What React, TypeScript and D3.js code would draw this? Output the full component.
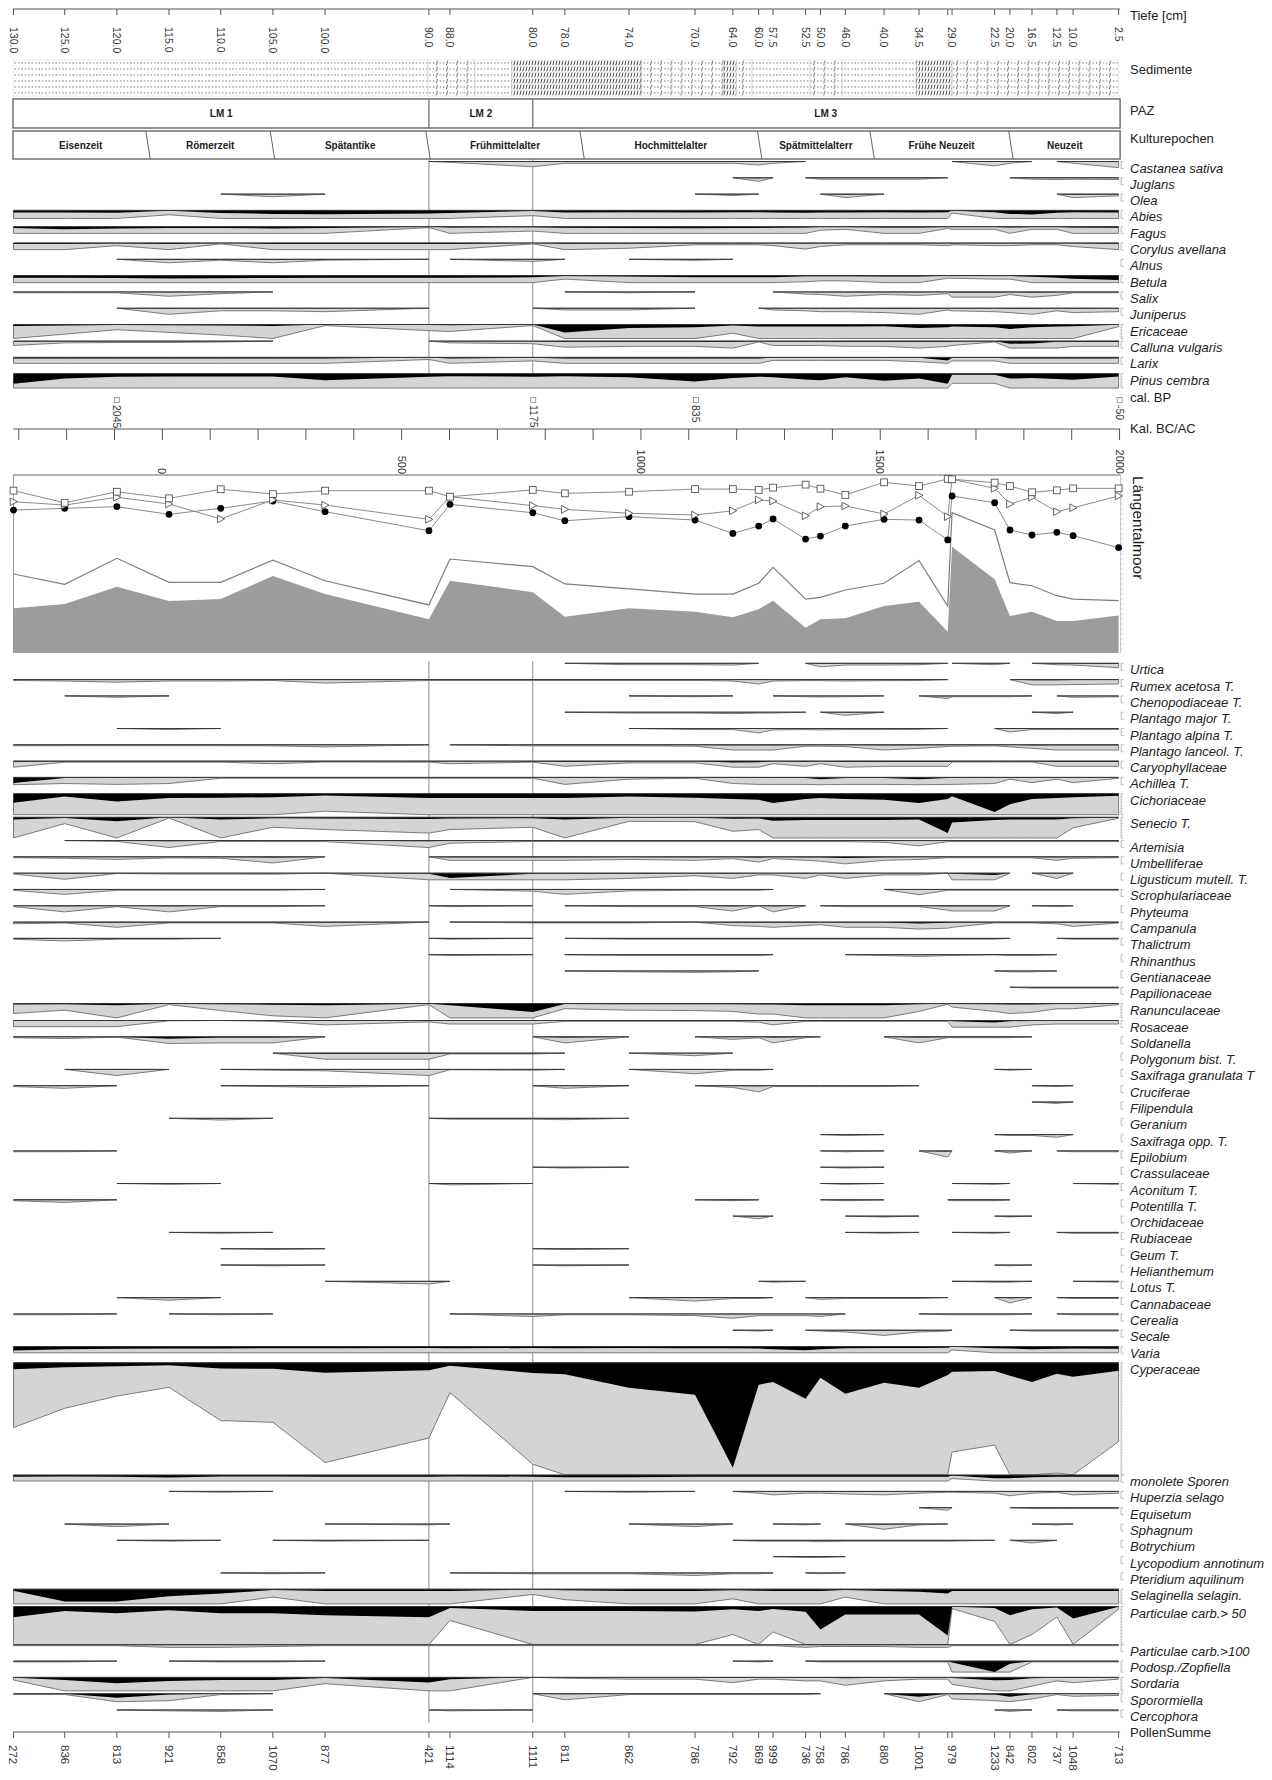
import React from "react";
import * as d3 from "d3";

// ---------- samples ----------
const SAMPLE_AGES = [-311, -204, -95, 14, 122, 231, 340, 557, 601, 774, 841, 975, 1113, 1192, 1246, 1276, 1344, 1375, 1427, 1508, 1581, 1641, 1650, 1739, 1771, 1817, 1869, 1903, 1998];
const DEPTH_LABELS = ["130.0", "125.0", "120.0", "115.0", "110.0", "105.0", "100.0", "90.0", "88.0", "80.0", "78.0", "74.0", "70.0", "64.0", "60.0", "57.5", "52.5", "50.0", "46.0", "40.0", "34.5", "", "29.0", "22.5", "20.0", "16.5", "12.5", "10.0", "2.5"];
const POLLEN_SUMS = [272, 836, 813, 921, 858, 1070, 877, 421, 1114, 1111, 811, 862, 786, 792, 869, 999, 736, 758, 786, 880, 1001, null, 979, 1233, 842, 802, 737, 1048, 713];

const CAL_BP = [2045, 1175, 835, -50];
const KAL_LABELS = [0, 500, 1000, 1500, 2000];

const ZONE_NAMES = ["LM 1", "LM 2", "LM 3"];
const ZONE_BOUNDS = [557, 774];
const EPOCH_NAMES = ["Eisenzeit", "Römerzeit", "Spätantike", "Frühmittelalter", "Hochmittelalter", "Spätmittelalterr", "Frühe Neuzeit", "Neuzeit"];
const EPOCH_BOUNDS = [-30, 230, 555, 877, 1248, 1483, 1773];

const SEDIMENT = [
  [-311, 555, "dots"], [555, 653, "mixed"], [653, 730, "dots"], [730, 1000, "peat"],
  [1000, 1173, "mixed"], [1173, 1199, "peat"], [1199, 1232, "mixed"], [1232, 1353, "dots"],
  [1353, 1420, "mixed"], [1420, 1575, "dots"], [1575, 1650, "peat"], [1650, 1998, "mixed"],
];

// ---------- Längentalmoor curves (%) ----------
const LT_SQUARES = [91.2, 84.4, 90.6, 86.9, 92, 89.3, 91.2, 91.2, 87.8, 91.6, 89.7, 90.6, 92.1, 92.1, 91.6, 92.9, 94.6, 92.3, 88.8, 95.9, 93.8, 97.8, 97.6, 95.7, 93.8, 90.3, 91.4, 92.5, 92.5];
const LT_TRIANGLES = [85, 83.1, 87.5, 83.7, 75.3, 86, 83.1, 75.1, 87.8, 82.8, 80.7, 78.5, 77.5, 79.9, 86, 85.4, 77.1, 82.2, 82.6, 78.1, 88.6, 76.6, 97.6, 92.5, 83.7, 87.5, 79.4, 81.6, 88.2];
const LT_CIRCLES = [80.3, 81.3, 82.2, 77.9, 81.3, 85.4, 79.4, 68.7, 83.5, 78.8, 74.3, 76.6, 74.7, 67.2, 71.3, 75.3, 64, 65.7, 71.3, 75.1, 74.7, 63.5, 88.2, 84.4, 69.1, 66.3, 67.8, 65.9, 59.2];
const LT_LINE = [44.4, 38.6, 53.2, 39.7, 39.7, 52.2, 40.6, 27, 52.8, 48.5, 38.8, 36, 33.1, 33.1, 39.2, 48.1, 30.3, 31.3, 35.4, 39.2, 51.9, 26.4, 78.8, 69.1, 39.5, 37.8, 32.2, 30.3, 29.4];
const LT_AREA = [25.1, 27.5, 37.2, 29.2, 30.3, 43.3, 33.1, 18.9, 40.6, 34.1, 20.4, 25.1, 23.2, 20.1, 24.6, 29.4, 14.2, 18.9, 19.5, 26.4, 28.8, 12, 59.7, 41.4, 20.8, 23.2, 18, 18, 21];

// ---------- taxa (% values, max = panel maximum %) ----------
const TREE_TAXA = [
  { name: "Castanea sativa", max: 4, v: [0, 0, 0, 0, 0, 0, 0, 0, 0.05, 0.3, 0.1, 0.1, 0.1, 0.1, 0.2, 0.1, 0, 0, 0, 0, 0, 0, 0, 0.25, 0.1, 0, 0, 0.1, 0.35] },
  { name: "Juglans", max: 4, v: [0, 0, 0, 0, 0, 0, 0, 0, 0, 0, 0, 0, 0, 0, 0.2, 0, 0, 0.08, 0.08, 0.08, 0.08, 0, 0, 0, 0, 0.08, 0.1, 0.08, 0.1] },
  { name: "Olea", max: 4, v: [0, 0, 0, 0, 0, 0.15, 0, 0, 0, 0, 0, 0, 0, 0.08, 0, 0, 0, 0, 0.2, 0, 0, 0, 0, 0, 0, 0, 0, 0.2, 0.1] },
  { name: "Abies", max: 4.6, v: [1.2, 1.2, 1.3, 0.25, 1.5, 2.0, 2.2, 1.8, 1.5, 0.3, 1.2, 1.0, 1.2, 1.0, 1.0, 1.2, 1.3, 1.2, 1.2, 1.0, 1.2, 1.0, 0.15, 1.0, 2.0, 2.3, 1.3, 1.0, 1.2] },
  { name: "Fagus", max: 3.8, v: [0.8, 1.5, 1.0, 0.8, 0.8, 1.0, 0.8, 0.05, 0.5, 0.25, 0.6, 0.8, 0.9, 0.8, 0.7, 0.6, 0.5, 0.2, 0.15, 0.4, 0.4, 0.1, 0.15, 0.15, 0.5, 0.15, 0.15, 0.5, 0.6] },
  { name: "Corylus avellana", max: 3.8, v: [0.5, 0.5, 0.15, 0.5, 0.05, 0.5, 0.5, 0.5, 0.5, 0.05, 0.4, 0.3, 0.1, 0.1, 0.1, 0.15, 0.35, 0.2, 0.1, 0.1, 0.1, 0.15, 0.1, 0.15, 0.15, 0.1, 0.1, 0.2, 0.4] },
  { name: "Alnus", max: 4, v: [0, 0, 0, 0.2, 0.05, 0.2, 0.05, 0, 0, 0.12, 0, 0, 0.06, 0, 0, 0, 0, 0, 0, 0, 0, 0, 0, 0, 0, 0, 0, 0, 0] },
  { name: "Betula", max: 4, v: [1.2, 1.2, 1.3, 1.7, 1.5, 1.3, 1.2, 1.2, 1.2, 1.0, 0.2, 0.5, 1.0, 1.0, 1.0, 1.0, 0.35, 0.3, 0.3, 0.5, 0.5, 0.15, 0.15, 0.2, 0.2, 0.6, 1.2, 1.8, 2.5] },
  { name: "Salix", max: 4, v: [0.05, 0.05, 0.05, 0.25, 0.1, 0, 0, 0, 0, 0, 0, 0.05, 0, 0, 0, 0, 0.12, 0.15, 0.25, 0.15, 0.2, 0.1, 0.3, 0.3, 0.15, 0.3, 0.2, 0.05, 0.05] },
  { name: "Juniperus", max: 4, v: [0, 0, 0, 0.35, 0.15, 0.15, 0.2, 0, 0, 0, 0.1, 0.1, 0, 0, 0, 0.1, 0.15, 0.2, 0.2, 0.25, 0.35, 0.1, 0.15, 0.2, 0.25, 0.35, 0.15, 0.25, 0.2] },
  { name: "Ericaceae", max: 8, v: [0.8, 0.55, 0.3, 0.45, 0.6, 0.8, 0.06, 0.35, 0.4, 0.06, 4.6, 2.0, 1.5, 0.5, 1.2, 1.2, 1.2, 1.2, 1.2, 1.0, 2.0, 1.5, 1.2, 1.5, 2.5, 1.5, 1.2, 1.0, 0.12] },
  { name: "Calluna vulgaris", max: 4, v: [0.25, 0.1, 0.08, 0.08, 0.05, 0, 0, 0, 0.1, 0.15, 0.35, 0.3, 0.3, 0.4, 0.05, 0.25, 0.25, 0.25, 0.3, 0.3, 0.4, 0.3, 0.25, 0.05, 1.5, 1.3, 0.4, 0.3, 0.3] },
  { name: "Larix", max: 3.4, v: [0.6, 0.6, 0.6, 0.6, 0.6, 0.6, 0.6, 0.12, 0.6, 0.2, 0.6, 0.6, 0.6, 0.6, 0.6, 0.17, 0.17, 0.17, 0.17, 0.17, 0.25, 1.8, 0.2, 0.2, 0.6, 0.6, 0.6, 0.6, 0.6] },
  { name: "Pinus cembra", max: 8.2, v: [5.7, 2.8, 1.8, 1.6, 1.6, 1.6, 3.8, 1.7, 1.5, 1.7, 1.5, 2.0, 4.4, 2.5, 1.7, 2.0, 3.3, 3.8, 2.0, 4.0, 2.8, 5.7, 0.55, 0.55, 2.8, 2.5, 3.0, 3.4, 1.6] },
];

const HERB_TAXA = [
  { name: "Urtica", max: 4, v: [0, 0, 0, 0, 0, 0, 0, 0, 0, 0, 0, 0.08, 0.08, 0.1, 0, 0, 0, 0.2, 0.1, 0.1, 0.08, 0, 0, 0.08, 0, 0, 0.08, 0.1, 0.25] },
  { name: "Rumex acetosa T.", max: 4, v: [0.05, 0.08, 0.15, 0.08, 0.08, 0.05, 0.2, 0.05, 0.05, 0.05, 0.05, 0.05, 0.05, 0.08, 0.25, 0.08, 0.06, 0.06, 0.08, 0.06, 0.05, 0, 0, 0, 0, 0.3, 0.3, 0.28, 0.25] },
  { name: "Chenopodiaceae T.", max: 4, v: [0, 0, 0.08, 0, 0, 0, 0, 0, 0, 0, 0, 0, 0.05, 0, 0, 0, 0.05, 0.06, 0.05, 0, 0, 0.15, 0.05, 0.05, 0.05, 0, 0, 0.08, 0.05] },
  { name: "Plantago major T.", max: 4, v: [0, 0, 0, 0, 0, 0, 0, 0, 0, 0, 0, 0.05, 0.05, 0.08, 0.05, 0.05, 0, 0, 0.18, 0, 0, 0, 0, 0, 0, 0, 0.08, 0, 0] },
  { name: "Plantago alpina T.", max: 4, v: [0, 0, 0, 0.06, 0, 0, 0, 0, 0, 0, 0, 0, 0.06, 0.06, 0.25, 0.08, 0.06, 0.08, 0.06, 0.06, 0.05, 0, 0, 0, 0.2, 0.06, 0.06, 0.06, 0.06] },
  { name: "Plantago lanceol. T.", max: 4, v: [0.06, 0.05, 0.05, 0.05, 0.05, 0.06, 0.12, 0, 0, 0.06, 0.06, 0.06, 0.08, 0.3, 0.3, 0.3, 0.08, 0.08, 0.1, 0.3, 0.2, 0.1, 0.08, 0.06, 0.12, 0.2, 0.3, 0.3, 0.3] },
  { name: "Caryophyllaceae", max: 3.5, v: [0.35, 0.06, 0.06, 0.06, 0.06, 0.15, 0.05, 0.06, 0.15, 0.06, 0.3, 0.1, 0.1, 0.8, 0.6, 0.15, 0.3, 0.15, 0.35, 0.3, 0.3, 0.3, 0.05, 0.05, 0.05, 0.05, 0.3, 0.3, 0.3] },
  { name: "Achillea T.", max: 4.2, v: [3.2, 0.35, 0.4, 0.35, 0.05, 0.05, 0.05, 0.05, 0.05, 0.05, 0.4, 0.1, 0.05, 0.35, 0.4, 0.4, 0.4, 1.0, 0.4, 0.4, 1.0, 0.4, 0.4, 0.35, 0.1, 0.3, 0.1, 0.3, 0.05] },
  { name: "Cichoriaceae", max: 12, v: [5.2, 1.6, 4.4, 2.5, 2.3, 2.0, 1.0, 2.5, 2.5, 2.5, 2.5, 1.6, 2.3, 3.0, 3.5, 5.3, 3.0, 2.5, 3.0, 3.5, 5.3, 3.0, 1.5, 10.5, 6.0, 3.0, 2.5, 2.0, 1.2] },
  { name: "Senecio T.", max: 11.8, v: [1.2, 0.36, 2.3, 0.04, 1.2, 0.57, 0.7, 0.9, 0.7, 0.57, 1.2, 0.23, 0.25, 0.8, 0.7, 2.0, 1.5, 1.5, 1.5, 1.5, 1.3, 9.0, 3.0, 1.5, 1.2, 1.2, 1.2, 0.6, 0.05] },
  { name: "Artemisia", max: 4, v: [0, 0, 0.05, 0.4, 0.05, 0.06, 0.06, 0.4, 0.15, 0.05, 0.06, 0.06, 0.06, 0.06, 0.06, 0.06, 0.06, 0.06, 0.06, 0.1, 0.3, 0.06, 0.06, 0.06, 0.06, 0.06, 0.06, 0.06, 0.06] },
  { name: "Umbelliferae", max: 4, v: [0.05, 0.08, 0.15, 0.06, 0.08, 0.35, 0, 0, 0.2, 0.2, 0.2, 0.15, 0.2, 0.1, 0.3, 0.1, 0.2, 0.25, 0.6, 0.2, 0.15, 0.05, 0.05, 0.05, 0.05, 0.05, 0.2, 0.08, 0.05] },
  { name: "Ligusticum mutell. T.", max: 3.8, v: [0.05, 0.35, 0.02, 0.05, 0.05, 0.06, 0, 0.4, 2.8, 0.4, 0.4, 0.3, 0.15, 0.3, 0.1, 0.1, 0.3, 0.1, 0.3, 0.1, 0.1, 0, 0.4, 1.0, 0, 0, 0.3, 0, 0] },
  { name: "Scrophulariaceae", max: 4, v: [0.05, 0.28, 0.05, 0.05, 0.05, 0.05, 0, 0, 0, 0.1, 0.28, 0.08, 0.05, 0.05, 0.05, 0, 0, 0, 0, 0, 0.3, 0.05, 0.05, 0.05, 0.05, 0.05, 0.05, 0.05, 0.05] },
  { name: "Phyteuma", max: 4, v: [0.05, 0.35, 0.05, 0.35, 0.05, 0.05, 0, 0, 0.05, 0, 0, 0.05, 0.05, 0.3, 0, 0.35, 0, 0, 0.05, 0.05, 0.05, 0.25, 0.3, 0.3, 0, 0, 0.05, 0, 0] },
  { name: "Campanula", max: 4, v: [0.1, 0.05, 0.3, 0.05, 0.05, 0.05, 0.25, 0, 0, 0.05, 0.05, 0.05, 0, 0.2, 0.25, 0.3, 0.2, 0.15, 0.3, 0.3, 0.8, 0.35, 0.3, 0.05, 0.05, 0.05, 0.1, 0.25, 0.05] },
  { name: "Thalictrum", max: 4, v: [0.05, 0.15, 0.05, 0.05, 0, 0, 0, 0, 0.05, 0, 0, 0.05, 0.05, 0.05, 0.05, 0.05, 0.05, 0.05, 0.05, 0.05, 0.05, 0.05, 0.05, 0.05, 0, 0, 0, 0.05, 0.05] },
  { name: "Rhinanthus", max: 4, v: [0, 0, 0, 0, 0, 0, 0, 0, 0.05, 0, 0, 0.05, 0.05, 0.05, 0.05, 0, 0, 0, 0, 0.05, 0.1, 0.05, 0.05, 0, 0.05, 0.05, 0, 0, 0] },
  { name: "Gentianaceae", max: 4, v: [0, 0, 0, 0, 0, 0, 0, 0, 0, 0, 0, 0.05, 0.08, 0.05, 0, 0, 0, 0, 0, 0, 0, 0, 0, 0, 0.05, 0.05, 0, 0, 0] },
  { name: "Papilionaceae", max: 4, v: [0, 0, 0, 0, 0, 0, 0, 0, 0, 0, 0, 0, 0, 0, 0, 0, 0, 0, 0, 0, 0, 0, 0, 0, 0, 0.05, 0.05, 0.05, 0.05] },
  { name: "Ranunculaceae", max: 8.2, v: [0.57, 0.38, 0.9, 0.06, 0.4, 0.7, 0.9, 0.06, 0.9, 4.8, 0.29, 0.38, 0.4, 0.45, 0.6, 0.6, 0.9, 0.9, 1.0, 0.9, 0.45, 0.04, 0.2, 0.45, 0.57, 0.5, 0.3, 0.3, 0.06] },
  { name: "Rosaceae", max: 3.8, v: [0.35, 0.35, 0.35, 0.02, 0, 0.05, 0.25, 0.08, 0.2, 0.2, 0.05, 0.05, 0.05, 0.05, 0.1, 0.25, 0.05, 0.05, 0.05, 0.05, 0.05, 0.05, 0.4, 1.2, 0.4, 0.25, 0.2, 0.2, 0.2] },
  { name: "Soldanella", max: 3.8, v: [0.05, 0.1, 0.02, 1.1, 0.35, 0.35, 0, 0, 0, 0, 0.35, 0, 0, 0.15, 0.05, 0.35, 0.05, 0, 0, 0, 0.35, 0.05, 0.05, 0.05, 0.05, 0, 0, 0, 0] },
  { name: "Polygonum bist. T.", max: 4, v: [0, 0, 0, 0, 0, 0, 0.35, 0.35, 0.05, 0.05, 0, 0, 0.15, 0, 0, 0, 0, 0, 0, 0, 0, 0, 0, 0, 0, 0, 0, 0, 0] },
  { name: "Saxifraga granulata T", max: 4, v: [0, 0, 0.35, 0, 0, 0.05, 0.08, 0.35, 0.02, 0.05, 0, 0, 0.25, 0.05, 0.05, 0, 0, 0, 0, 0, 0, 0, 0, 0, 0.05, 0, 0, 0, 0] },
  { name: "Cruciferae", max: 4, v: [0.05, 0.15, 0, 0, 0, 0.05, 0.1, 0, 0, 0, 0.15, 0, 0, 0.1, 0.35, 0.05, 0.05, 0.05, 0.05, 0.05, 0, 0, 0, 0, 0, 0, 0.05, 0, 0] },
  { name: "Filipendula", max: 4, v: [0, 0, 0, 0, 0, 0, 0, 0, 0, 0, 0, 0, 0, 0, 0, 0, 0, 0, 0, 0, 0, 0, 0, 0, 0, 0, 0.08, 0, 0] },
  { name: "Geranium", max: 4, v: [0, 0, 0, 0, 0.1, 0, 0, 0, 0.05, 0.05, 0.08, 0, 0, 0, 0, 0, 0, 0, 0, 0, 0, 0, 0, 0, 0, 0, 0, 0, 0] },
  { name: "Saxifraga opp. T.", max: 4, v: [0, 0, 0, 0, 0, 0, 0, 0, 0, 0, 0, 0, 0, 0, 0, 0, 0, 0, 0.05, 0, 0, 0, 0, 0, 0.05, 0.05, 0.15, 0, 0] },
  { name: "Epilobium", max: 4, v: [0.05, 0.05, 0, 0, 0, 0, 0, 0, 0, 0, 0, 0, 0, 0, 0, 0, 0, 0, 0.05, 0, 0, 0.35, 0, 0, 0.12, 0, 0, 0.05, 0.05] },
  { name: "Crassulaceae", max: 4, v: [0, 0, 0, 0, 0, 0, 0, 0, 0, 0, 0.05, 0, 0, 0, 0, 0, 0, 0, 0.05, 0, 0, 0, 0, 0, 0, 0, 0, 0, 0] },
  { name: "Aconitum T.", max: 4, v: [0, 0, 0, 0.05, 0, 0, 0, 0, 0.08, 0, 0, 0, 0, 0, 0, 0, 0, 0, 0.05, 0, 0, 0, 0, 0.05, 0, 0, 0, 0, 0.05] },
  { name: "Potentilla T.", max: 4, v: [0.05, 0.15, 0, 0, 0, 0, 0, 0, 0, 0, 0, 0, 0, 0.05, 0, 0, 0, 0, 0.05, 0, 0, 0, 0.05, 0.05, 0, 0, 0, 0, 0] },
  { name: "Orchidaceae", max: 4, v: [0, 0, 0, 0, 0, 0, 0, 0, 0, 0, 0, 0, 0, 0, 0.15, 0, 0, 0, 0, 0.05, 0, 0, 0, 0, 0.05, 0, 0, 0, 0] },
  { name: "Rubiaceae", max: 4, v: [0, 0, 0, 0, 0.05, 0, 0, 0, 0, 0, 0, 0, 0, 0, 0, 0, 0, 0, 0, 0.05, 0, 0, 0, 0.05, 0, 0, 0, 0.05, 0.05] },
  { name: "Geum T.", max: 4, v: [0, 0, 0, 0, 0, 0.05, 0, 0, 0, 0, 0.05, 0, 0, 0, 0, 0, 0, 0, 0, 0, 0, 0, 0, 0, 0, 0, 0, 0, 0] },
  { name: "Helianthemum", max: 4, v: [0, 0, 0, 0, 0, 0.05, 0, 0, 0, 0, 0.05, 0, 0, 0, 0, 0, 0, 0, 0, 0, 0, 0, 0, 0, 0.05, 0, 0, 0, 0] },
  { name: "Lotus T.", max: 4, v: [0, 0, 0, 0, 0, 0, 0, 0.15, 0, 0, 0, 0, 0, 0, 0, 0.05, 0, 0, 0, 0, 0, 0, 0, 0.05, 0.05, 0, 0, 0, 0.05] },
  { name: "Cannabaceae", max: 4, v: [0, 0, 0, 0.15, 0, 0, 0, 0, 0, 0, 0, 0, 0.2, 0.05, 0.05, 0, 0, 0.1, 0.05, 0.05, 0.05, 0, 0, 0, 0.3, 0, 0, 0.05, 0.05] },
  { name: "Cerealia", max: 4, v: [0.05, 0.05, 0, 0, 0.05, 0, 0, 0, 0, 0.15, 0.05, 0.05, 0.1, 0.25, 0.1, 0.1, 0.1, 0.15, 0, 0, 0, 0.05, 0.05, 0.05, 0.05, 0, 0, 0.05, 0.05] },
  { name: "Secale", max: 4, v: [0, 0, 0, 0, 0, 0, 0, 0, 0, 0, 0, 0, 0, 0, 0.05, 0, 0, 0.05, 0.1, 0.3, 0.1, 0.05, 0, 0, 0, 0.05, 0.05, 0.05, 0.05] },
  { name: "Varia", max: 3.6, v: [2.3, 1.6, 1.3, 1.2, 1.1, 1.0, 1.0, 0.9, 1.0, 0.9, 1.0, 0.9, 1.0, 1.0, 1.2, 1.5, 2.2, 1.5, 1.0, 0.9, 0.8, 0.7, 0.2, 1.0, 1.2, 1.5, 1.3, 1.2, 1.3] },
  { name: "Cyperaceae", max: 64, v: [3.7, 2.6, 1.9, 1.4, 3.3, 3.4, 5.7, 4.3, 1.7, 5.8, 6.5, 14.2, 18.3, 60, 12.5, 10.9, 20.6, 8.6, 17.7, 11.4, 14.3, 7.0, 5.1, 4.7, 7.4, 10.9, 6.3, 8.0, 4.5] },
];

const SPORE_TAXA = [
  { name: "monolete Sporen", max: 3.4, v: [1.0, 0.8, 0.9, 1.3, 0.8, 0.8, 0.9, 1.0, 0.8, 0.9, 1.2, 1.2, 1.0, 1.0, 1.0, 1.0, 1.0, 1.0, 1.0, 1.0, 1.0, 1.0, 0.2, 1.8, 1.8, 1.2, 1.0, 1.0, 1.0] },
  { name: "Huperzia selago", max: 4, v: [0, 0, 0, 0, 0.05, 0, 0, 0, 0, 0, 0, 0.05, 0, 0, 0.1, 0.2, 0.1, 0.1, 0.15, 0.2, 0.1, 0.05, 0.05, 0.1, 0.25, 0.1, 0.05, 0.2, 0.1] },
  { name: "Equisetum", max: 4, v: [0, 0, 0, 0, 0, 0, 0, 0, 0, 0, 0, 0, 0, 0, 0, 0, 0, 0, 0, 0, 0, 0.15, 0, 0, 0, 0.05, 0.05, 0.05, 0.05] },
  { name: "Sphagnum", max: 4, v: [0, 0, 0.15, 0, 0, 0, 0, 0.05, 0, 0, 0, 0, 0.15, 0, 0, 0, 0.05, 0, 0, 0.3, 0.05, 0, 0, 0, 0, 0, 0.05, 0, 0] },
  { name: "Botrychium", max: 4, v: [0, 0, 0, 0.05, 0, 0, 0.05, 0, 0, 0, 0, 0, 0, 0, 0.05, 0.05, 0.05, 0.08, 0.05, 0.05, 0.05, 0.05, 0.05, 0, 0, 0.15, 0, 0, 0] },
  { name: "Lycopodium annotinum", max: 4, v: [0, 0, 0, 0, 0, 0, 0, 0, 0, 0, 0, 0, 0, 0, 0, 0, 0.05, 0.05, 0, 0, 0, 0, 0, 0, 0, 0, 0, 0, 0] },
  { name: "Pteridium aquilinum", max: 4, v: [0, 0, 0, 0, 0, 0.05, 0, 0, 0, 0.05, 0.05, 0.05, 0.15, 0.05, 0.05, 0, 0, 0.05, 0, 0, 0, 0, 0, 0, 0, 0, 0, 0, 0] },
  { name: "Selaginella selagin.", max: 8.4, v: [0.9, 7.0, 7.0, 4.0, 2.5, 0.45, 1.0, 1.0, 1.0, 0.3, 0.6, 1.0, 1.0, 0.55, 0.9, 1.0, 1.0, 1.0, 0.45, 1.0, 1.5, 2.5, 1.0, 1.0, 1.0, 1.0, 1.0, 1.0, 1.0] },
  { name: "Particulae carb.> 50", max: 21.7, v: [6.1, 2.6, 3.8, 2.2, 3.8, 3.8, 5.0, 6.1, 0.8, 2.5, 2.5, 2.5, 2.9, 1.6, 2.5, 1.45, 3.0, 13.1, 4.5, 4.5, 4.5, 16.6, 0.12, 0.85, 5.0, 1.6, 0.6, 6.9, 0.15] },
  { name: "Particulae carb.>100", max: 4, v: [0.05, 0.05, 0.05, 0.15, 0.15, 0.1, 0.05, 0.05, 0.05, 0.05, 0.05, 0.05, 0.05, 0.05, 0.05, 0.05, 0.15, 0.1, 0.1, 0.1, 0.15, 0.15, 0.05, 0.05, 0.05, 0.05, 0.05, 0.05, 0.05] },
  { name: "Podosp./Zopfiella", max: 6.3, v: [0.05, 0.05, 0, 0, 0.05, 0.05, 0, 0, 0, 0, 0, 0, 0, 0, 0.05, 0, 0, 0.05, 0.05, 0.05, 0.05, 0.05, 0.8, 6.2, 1.5, 0.05, 0.05, 0.05, 0.05] },
  { name: "Sordaria", max: 7.7, v: [0.15, 1.5, 3.4, 2.0, 1.5, 1.5, 0.36, 2.9, 1.0, 0, 0.05, 0.1, 0.1, 0.3, 0.1, 0.1, 0.2, 0.2, 0.45, 0.2, 0.1, 0.1, 0.4, 1.7, 1.5, 0.5, 0.2, 0.3, 0.1] },
  { name: "Sporormiella", max: 4.6, v: [0.05, 0.05, 2.3, 0.4, 0.05, 0, 0, 0, 0, 0, 0.35, 0.05, 0.05, 0.05, 0.05, 0.05, 0.05, 0, 0, 0, 1.7, 0.05, 0.3, 0.4, 1.7, 0.3, 0.05, 0.15, 0.1] },
  { name: "Cercophora", max: 4, v: [0, 0, 0, 0.05, 0.08, 0, 0, 0, 0.05, 0, 0, 0, 0, 0, 0, 0, 0, 0, 0, 0, 0, 0, 0, 0, 0.08, 0, 0, 0.05, 0.05] },
];

// ---------- layout / style ----------
const FONT = "'Liberation Sans', Arial, Helvetica, sans-serif";
const K = 1.75; // px per percent
const EXAG = 10;
const ROW_STEP = 16.3;
const LABEL_X = 1130;
const X_LEFT = 13.5;
const X_RIGHT = 1118.6;
const GREY_FILL = "#d4d4d4";
const GREY_STROKE = "#6e6e6e";

const xAge = d3.scaleLinear().domain([SAMPLE_AGES[0], SAMPLE_AGES[SAMPLE_AGES.length - 1]]).range([X_LEFT, X_RIGHT]);
const xi = (i: number) => xAge(SAMPLE_AGES[i]);

function layoutRows(taxa: any[], start: number) {
  let y = start;
  return taxa.map((t) => {
    const top = y;
    const capPx = t.max * K;
    y += Math.max(ROW_STEP, capPx + (capPx > 30 ? 0.3 : 2.6));
    return { t, top };
  });
}

function TaxonRow({ taxon, top }: { taxon: any; top: number }) {
  const n = SAMPLE_AGES.length;
  const val = (i: number) => taxon.v[i] || 0;
  const runs: number[][] = [];
  for (let i = 0; i < n; i++) {
    if (val(i) > 0) {
      let j = i;
      while (j + 1 < n && val(j + 1) > 0) j++;
      runs.push(d3.range(Math.max(0, i - 1), Math.min(n - 1, j + 1) + 1));
      i = j;
    }
  }
  const capPx = taxon.max * K;
  const grey = d3.area<number>().x(xi).y0(top).y1((i) => top + Math.min(val(i) * EXAG * K, capPx));
  const black = d3.area<number>().x(xi).y0(top).y1((i) => top + Math.min(val(i) * K, capPx));
  const base = d3.line<number>().x(xi).y(() => top);
  const brH = Math.max(7, capPx);
  const ticks = capPx > 10 ? d3.range(top + 3, top + brH, 3) : [];
  return (
    <g>
      {runs.map((r, k) => (
        <path key={"g" + k} d={grey(r) || ""} fill={GREY_FILL} stroke={GREY_STROKE} strokeWidth={0.9} strokeLinejoin="round" />
      ))}
      {runs.map((r, k) => (
        <path key={"b" + k} d={black(r) || ""} fill="#000" />
      ))}
      {runs.map((r, k) => (
        <path key={"l" + k} d={base(r) || ""} fill="none" stroke="#333" strokeWidth={0.9} />
      ))}
      <path d={`M${X_RIGHT + 5},${top} H${X_RIGHT + 2.5} V${top + brH} H${X_RIGHT + 5}`} fill="none" stroke="#aaa" strokeWidth={0.8} />
      {ticks.map((t, k) => (
        <line key={"t" + k} x1={X_RIGHT + 2.5} x2={X_RIGHT + 4.5} y1={t} y2={t} stroke="#bbb" strokeWidth={0.6} />
      ))}
      <text x={LABEL_X} y={top + 6.5} dominantBaseline="central" fontFamily={FONT} fontStyle="italic" fontSize={13} fill="#222">
        {taxon.name}
      </text>
    </g>
  );
}

export default function App() {
  const topRows = layoutRows(TREE_TAXA, 161.5);
  const lowRows = layoutRows(HERB_TAXA, 663.3);
  const lastHerb = lowRows[lowRows.length - 1];
  const sporeStart = lastHerb.top + Math.max(ROW_STEP, lastHerb.t.max * K + (lastHerb.t.max * K > 30 ? 0.3 : 2.6));
  const sporeRows = layoutRows(SPORE_TAXA, sporeStart);

  // Längentalmoor panel
  const LT_TOP = 475;
  const LT_BOTTOM = 653;
  const yLT = d3.scaleLinear().domain([0, 100]).range([LT_BOTTOM, LT_TOP]);
  const idx = d3.range(SAMPLE_AGES.length);
  const ltArea = d3.area<number>().x(xi).y0(LT_BOTTOM).y1((i) => yLT(LT_AREA[i]));
  const lineOf = (arr: number[]) => d3.line<number>().x(xi).y((i) => yLT(arr[i]))(idx) || "";

  const kalTicks = d3.range(-300, 2001, 100);
  const xL = xAge(SAMPLE_AGES[0]);
  const xR = xAge(SAMPLE_AGES[SAMPLE_AGES.length - 1]);

  const zoneEdges = [SAMPLE_AGES[0], ...ZONE_BOUNDS, SAMPLE_AGES[SAMPLE_AGES.length - 1]];
  const epochEdges = [SAMPLE_AGES[0], ...EPOCH_BOUNDS, SAMPLE_AGES[SAMPLE_AGES.length - 1]];

  const AXIS_BOTTOM = 1732;

  const rightLabel = (txt: string, y: number, size = 13) => (
    <text x={LABEL_X} y={y} dominantBaseline="central" fontFamily={FONT} fontSize={size} fill="#222">
      {txt}
    </text>
  );

  return (
    <svg width={1272} height={1780} style={{ position: "absolute", left: 0, top: 0, background: "#fff" }} xmlns="http://www.w3.org/2000/svg">
      <defs>
        <pattern id="pDots" width={3.4} height={6} patternUnits="userSpaceOnUse" x={0} y={60}>
          <rect x={1.2} y={2.4} width={1.1} height={1.1} fill="#555" />
        </pattern>
        <pattern id="pPeat" width={3.0} height={6} patternUnits="userSpaceOnUse" x={0} y={60}>
          <line x1={0.8} y1={5.4} x2={2.0} y2={0.6} stroke="#222" strokeWidth={0.8} />
        </pattern>
        <pattern id="pMixed" width={10.2} height={6} patternUnits="userSpaceOnUse" x={0} y={60}>
          <rect x={1.2} y={2.4} width={1.1} height={1.1} fill="#555" />
          <rect x={4.6} y={2.4} width={1.1} height={1.1} fill="#555" />
          <line x1={7.9} y1={5.4} x2={8.9} y2={0.7} stroke="#333" strokeWidth={0.75} />
        </pattern>
      </defs>
      <rect x={0} y={0} width={1272} height={1780} fill="#fff" />

      {/* Depth axis */}
      <line x1={xL - 0.5} x2={xR + 1.5} y1={9} y2={9} stroke="#555" strokeWidth={1} />
      {SAMPLE_AGES.map((a, i) => (
        <line key={"dt" + i} x1={xi(i)} x2={xi(i)} y1={9} y2={15} stroke="#555" strokeWidth={1} />
      ))}
      {DEPTH_LABELS.map((l, i) =>
        l ? (
          <text key={"dl" + i} transform={`translate(${xi(i)},27) rotate(90)`} dy="0.35em" fontFamily={FONT} fontSize={10.5} fill="#333">
            {l}
          </text>
        ) : null
      )}
      {rightLabel("Tiefe [cm]", 15)}

      {/* Sediment */}
      {SEDIMENT.map(([s, e, t]: any, k) => (
        <rect key={"sd" + k} x={xAge(s)} y={60} width={xAge(e) - xAge(s)} height={36}
          fill={t === "dots" ? "url(#pDots)" : t === "peat" ? "url(#pPeat)" : "url(#pMixed)"} />
      ))}
      {SEDIMENT.slice(1).map(([s]: any, k) => (
        <line key={"ss" + k} x1={xAge(s)} x2={xAge(s)} y1={60} y2={96} stroke="#bdbdbd" strokeWidth={0.7} />
      ))}
      <rect x={xL} y={60} width={xR - xL} height={36} fill="none" stroke="#e0e0e0" strokeWidth={0.6} />
      {rightLabel("Sedimente", 69)}

      {/* PAZ */}
      <rect x={xL - 0.5} y={99} width={xR - xL + 2} height={29} fill="#fff" stroke="#666" strokeWidth={1.4} />
      {ZONE_BOUNDS.map((b, k) => (
        <line key={"zb" + k} x1={xAge(b)} x2={xAge(b)} y1={99} y2={128} stroke="#666" strokeWidth={1.2} />
      ))}
      {ZONE_NAMES.map((z, k) => (
        <text key={"zn" + k} x={(xAge(zoneEdges[k]) + xAge(zoneEdges[k + 1])) / 2} y={113.5} textAnchor="middle" dominantBaseline="central"
          fontFamily={FONT} fontWeight="bold" fontSize={10} fill="#222">{z}</text>
      ))}
      {rightLabel("PAZ", 110)}

      {/* Kulturepochen */}
      <rect x={xL - 0.5} y={131} width={xR - xL + 2} height={28} fill="#fff" stroke="#666" strokeWidth={1.4} />
      {EPOCH_BOUNDS.map((b, k) => (
        <line key={"eb" + k} x1={xAge(b) - 2.2} x2={xAge(b) + 2.2} y1={131} y2={159} stroke="#666" strokeWidth={1} />
      ))}
      {EPOCH_NAMES.map((z, k) => (
        <text key={"en" + k} x={(xAge(epochEdges[k]) + xAge(epochEdges[k + 1])) / 2} y={145.5} textAnchor="middle" dominantBaseline="central"
          fontFamily={FONT} fontWeight="bold" fontSize={10} fill="#222">{z}</text>
      ))}
      {rightLabel("Kulturepochen", 138)}

      {/* zone lines */}
      {ZONE_BOUNDS.map((b, k) => (
        <g key={"zl" + k}>
          <line x1={xAge(b)} x2={xAge(b)} y1={159} y2={388} stroke="#8a8a8a" strokeWidth={1} />
          <line x1={xAge(b)} x2={xAge(b)} y1={661} y2={1723} stroke="#8a8a8a" strokeWidth={1} />
        </g>
      ))}

      {/* tree rows */}
      {topRows.map(({ t, top }) => (
        <TaxonRow key={t.name} taxon={t} top={top} />
      ))}

      {/* cal BP */}
      {CAL_BP.map((bp, k) => {
        const x = xAge(1950 - bp);
        return (
          <g key={"bp" + k}>
            <rect x={x - 2.5} y={397.5} width={5} height={5} fill="#fff" stroke="#777" strokeWidth={0.7} />
            <text transform={`translate(${x},405) rotate(90)`} dy="0.35em" fontFamily={FONT} fontSize={10.5} fill="#333">{bp}</text>
          </g>
        );
      })}
      {rightLabel("cal. BP", 397)}

      {/* Kal BC/AC axis */}
      <line x1={xL - 0.5} x2={xR + 1.5} y1={429} y2={429} stroke="#555" strokeWidth={1} />
      {kalTicks.map((t) => (
        <line key={"kt" + t} x1={xAge(t)} x2={xAge(t)} y1={429} y2={440} stroke="#555" strokeWidth={1} />
      ))}
      {KAL_LABELS.map((t) => (
        <text key={"kl" + t} transform={`translate(${xAge(t)},474) rotate(90)`} dy="0.35em" textAnchor="end" fontFamily={FONT} fontSize={11} fill="#333">{t}</text>
      ))}
      {rightLabel("Kal. BC/AC", 428)}

      {/* Längentalmoor panel */}
      <path d={ltArea(idx) || ""} fill="#9c9c9c" />
      <path d={lineOf(LT_LINE)} fill="none" stroke="#7e7e7e" strokeWidth={1.2} />
      <path d={lineOf(LT_CIRCLES)} fill="none" stroke="#8a8a8a" strokeWidth={1} />
      <path d={lineOf(LT_TRIANGLES)} fill="none" stroke="#8a8a8a" strokeWidth={1} />
      <path d={lineOf(LT_SQUARES)} fill="none" stroke="#8a8a8a" strokeWidth={1} />
      <line x1={xL - 0.5} x2={xR + 1.5} y1={LT_TOP} y2={LT_TOP} stroke="#9a9a9a" strokeWidth={1.6} />
      <line x1={xL} x2={xL} y1={LT_TOP} y2={LT_BOTTOM} stroke="#9a9a9a" strokeWidth={1} />
      <line x1={xR + 2} x2={xR + 2} y1={LT_TOP} y2={LT_BOTTOM} stroke="#c4c4c4" strokeWidth={1} />
      {d3.range(LT_TOP + 4, LT_BOTTOM, 5).map((y) => (
        <line key={"rt" + y} x1={xR + 2} x2={xR + 5} y1={y} y2={y} stroke="#c4c4c4" strokeWidth={0.6} />
      ))}
      {idx.map((i) => (
        <circle key={"c" + i} cx={xi(i)} cy={yLT(LT_CIRCLES[i])} r={3.4} fill="#000" />
      ))}
      {idx.map((i) => {
        const x = xi(i), y = yLT(LT_TRIANGLES[i]);
        return <path key={"tr" + i} d={`M${x - 3.3},${y - 3.8} L${x + 3.9},${y} L${x - 3.3},${y + 3.8} Z`} fill="#fff" stroke="#555" strokeWidth={0.9} />;
      })}
      {idx.map((i) => (
        <rect key={"sq" + i} x={xi(i) - 3.4} y={yLT(LT_SQUARES[i]) - 3.4} width={6.8} height={6.8} fill="#fff" stroke="#555" strokeWidth={0.9} />
      ))}
      <text transform={`translate(1133,476) rotate(90)`} fontFamily={FONT} fontSize={15.5} fill="#222">Längentalmoor</text>

      {/* herb + spore rows */}
      {lowRows.map(({ t, top }) => (
        <TaxonRow key={t.name} taxon={t} top={top} />
      ))}
      {sporeRows.map(({ t, top }) => (
        <TaxonRow key={t.name} taxon={t} top={top} />
      ))}

      {/* Pollen sum axis */}
      <line x1={xL - 0.5} x2={xR + 1.5} y1={AXIS_BOTTOM} y2={AXIS_BOTTOM} stroke="#555" strokeWidth={1} />
      {SAMPLE_AGES.map((a, i) => (
        <line key={"pt" + i} x1={xi(i)} x2={xi(i)} y1={AXIS_BOTTOM} y2={AXIS_BOTTOM + 6} stroke="#555" strokeWidth={1} />
      ))}
      {POLLEN_SUMS.map((s, i) =>
        s != null ? (
          <text key={"ps" + i} transform={`translate(${xi(i)},${AXIS_BOTTOM + 13}) rotate(90)`} dy="0.35em" fontFamily={FONT} fontSize={11.5} fill="#333">{s}</text>
        ) : null
      )}
      {rightLabel("PollenSumme", AXIS_BOTTOM)}
    </svg>
  );
}
